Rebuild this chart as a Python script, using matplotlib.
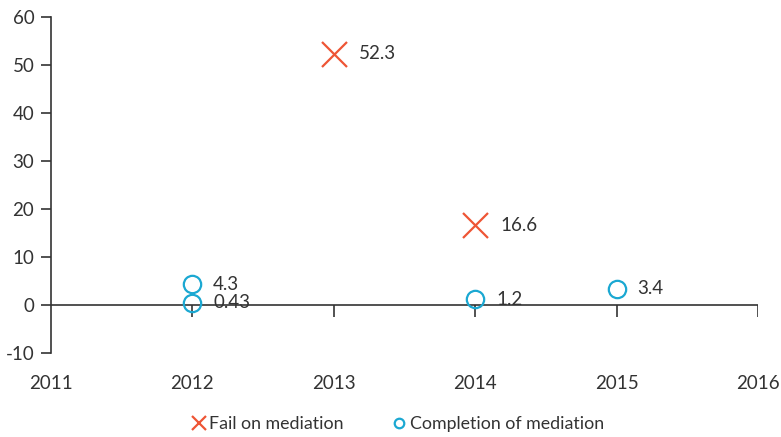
import matplotlib.pyplot as plt

# Mediation outcomes by year
fail_years = [2013, 2014]
fail_values = [52.3, 16.6]
fail_labels = ["52.3", "16.6"]

done_years = [2012, 2012, 2014, 2015]
done_values = [4.3, 0.43, 1.2, 3.4]
done_labels = ["4.3", "0.43", "1.2", "3.4"]

year_ticks = [2011, 2012, 2013, 2014, 2015, 2016]
y_ticks = [-10, 0, 10, 20, 30, 40, 50, 60]

red = "#ee5535"
blue = "#1ba8d2"
txt = "#333333"

plt.rcParams["font.family"] = ["Lato", "DejaVu Sans"]
plt.rcParams["axes.unicode_minus"] = False

fig = plt.figure(figsize=(7.81, 4.37), dpi=100)
ax = fig.add_axes([0.0653, 0.1922, 0.9053, 0.7689])

ax.set_xlim(2011, 2016)
ax.set_ylim(-10, 60)

for s in ["top", "right", "bottom"]:
    ax.spines[s].set_visible(False)
ax.spines["left"].set_color(txt)
ax.spines["left"].set_linewidth(1.2)

# zero line with year ticks hanging below it
ax.axhline(0, color=txt, lw=1.2, zorder=1)
ax.vlines(year_ticks[1:], -2.5, 0, color=txt, lw=1.2, zorder=1)

ax.set_xticks(year_ticks)
ax.set_yticks(y_ticks)
ax.tick_params(axis="x", length=0, pad=16, labelsize=13.5, labelcolor=txt)
ax.tick_params(axis="y", length=7, width=1.2, color=txt, labelsize=13.5,
               labelcolor=txt, pad=5)

ax.plot(fail_years, fail_values, linestyle="none", marker="x", ms=18, mew=1.6,
        color=red, label="Fail on mediation", zorder=3)
ax.plot(done_years, done_values, linestyle="none", marker="o", ms=12.5, mew=1.6,
        mfc="none", color=blue, label="Completion of mediation", zorder=3)

for x, y, s in zip(fail_years, fail_values, fail_labels):
    ax.annotate(s, (x, y), xytext=(18, 0), textcoords="offset points",
                va="center", fontsize=13.5, color=txt)
for x, y, s in zip(done_years, done_values, done_labels):
    ax.annotate(s, (x, y), xytext=(15, 0), textcoords="offset points",
                va="center", fontsize=13.5, color=txt)

leg = fig.legend(loc="lower center", bbox_to_anchor=(0.508, -0.025), ncol=2,
                 frameon=False, fontsize=12.8, handletextpad=0.1,
                 columnspacing=2.6, markerscale=0.55, labelcolor=txt,
                 handlelength=1.0)

fig.savefig("out.png", dpi=100)
